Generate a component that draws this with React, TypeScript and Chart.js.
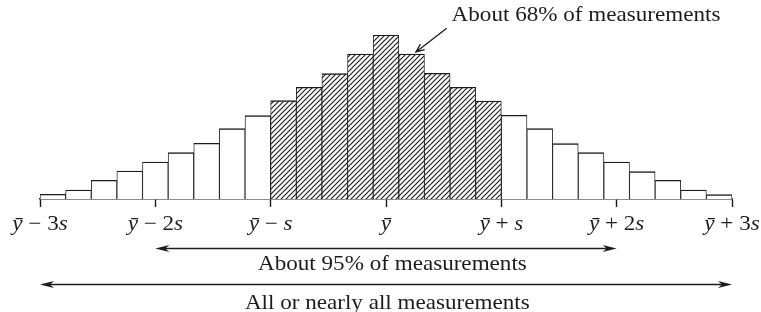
import { useEffect, useRef } from 'react';
import { Chart, registerables } from 'chart.js';

Chart.register(...registerables);

// ---- data ----
const binIndex = [0, 1, 2, 3, 4, 5, 6, 7, 8, 9, 10, 11, 12, 13, 14, 15, 16, 17, 18, 19, 20, 21, 22, 23, 24, 25, 26];
const binHeights = [4.7, 9, 18.7, 28, 37, 46.3, 55.7, 70.3, 83.3, 98.3, 111.7, 125.3, 145, 164, 145, 125.7, 111.7, 98, 83.7, 70.3, 55.3, 46.3, 37, 27.3, 18.7, 9, 4.3];
const tickValues = [-0.5, 4, 8.5, 13, 17.5, 22, 26.5];
const tickLabels = ['ȳ − 3s', 'ȳ − 2s', 'ȳ − s', 'ȳ', 'ȳ + s', 'ȳ + 2s', 'ȳ + 3s'];
const label68 = 'About 68% of measurements';
const label95 = 'About 95% of measurements';
const labelAll = 'All or nearly all measurements';

const FONT = '"Liberation Serif", "Times New Roman", serif';
const INK = '#1c1c1c';
const FS = 21;
const SX = 1.1;

function drawPlain(ctx: CanvasRenderingContext2D, text: string, x: number, y: number, align: 'left' | 'center') {
  ctx.save();
  ctx.font = `${FS}px ${FONT}`;
  ctx.textBaseline = 'alphabetic';
  ctx.textAlign = 'left';
  const w = ctx.measureText(text).width;
  ctx.translate(x, y);
  ctx.scale(SX, 1);
  ctx.fillText(text, align === 'center' ? -w / 2 : 0, 0);
  ctx.restore();
}

function drawRich(ctx: CanvasRenderingContext2D, text: string, cx: number, y: number) {
  ctx.save();
  ctx.textBaseline = 'alphabetic';
  ctx.textAlign = 'left';
  const chars = Array.from(text);
  const fontFor = (ch: string) => (/[ȳs]/.test(ch) ? `italic ${FS}px ${FONT}` : `${FS}px ${FONT}`);
  let total = 0;
  const widths = chars.map((ch) => {
    ctx.font = fontFor(ch);
    const w = ctx.measureText(ch).width;
    total += w;
    return w;
  });
  ctx.translate(cx, y);
  ctx.scale(SX, 1);
  let x = -total / 2;
  chars.forEach((ch, i) => {
    ctx.font = fontFor(ch);
    ctx.fillText(ch, x, 0);
    x += widths[i];
  });
  ctx.restore();
}

function filledHead(ctx: CanvasRenderingContext2D, tipX: number, y: number, dir: number) {
  ctx.beginPath();
  ctx.moveTo(tipX, y);
  ctx.lineTo(tipX - dir * 14, y - 3.5);
  ctx.lineTo(tipX - dir * 10, y);
  ctx.lineTo(tipX - dir * 14, y + 3.5);
  ctx.closePath();
  ctx.fill();
}

function doubleArrow(ctx: CanvasRenderingContext2D, x1: number, x2: number, y: number) {
  ctx.beginPath();
  ctx.moveTo(x1 + 6, y);
  ctx.lineTo(x2 - 6, y);
  ctx.stroke();
  filledHead(ctx, x1, y, -1);
  filledHead(ctx, x2, y, 1);
}

const annotationPlugin = {
  id: 'annotations',
  afterDraw(chart: any) {
    const ctx: CanvasRenderingContext2D = chart.ctx;
    const xs = chart.scales.x;
    const ys = chart.scales.y;
    const base = xs.top;
    ctx.save();
    ctx.fillStyle = INK;
    ctx.strokeStyle = INK;
    ctx.lineWidth = 1.4;

    // tick labels
    tickValues.forEach((v, i) => drawRich(ctx, tickLabels[i], xs.getPixelForValue(v), base + 31));

    // 95% arrow + label
    doubleArrow(ctx, xs.getPixelForValue(tickValues[1]), xs.getPixelForValue(tickValues[5]), base + 49.5);
    drawPlain(ctx, label95, xs.getPixelForValue(13.25), base + 71, 'center');

    // all arrow + label
    doubleArrow(ctx, xs.getPixelForValue(tickValues[0]), xs.getPixelForValue(tickValues[6]), base + 85.5);
    drawPlain(ctx, labelAll, xs.getPixelForValue(13.05), base + 110, 'center');

    // 68% label + pointer
    drawPlain(ctx, label68, xs.getPixelForValue(15.56), ys.getPixelForValue(178), 'left');
    const tx = xs.getPixelForValue(14.17), ty = ys.getPixelForValue(147);
    const sx = xs.getPixelForValue(15.37), sy = ys.getPixelForValue(170.7);
    ctx.lineWidth = 1.3;
    ctx.beginPath();
    ctx.moveTo(sx, sy);
    ctx.lineTo(tx, ty);
    const ang = Math.atan2(sy - ty, sx - tx);
    const hl = 9;
    ctx.moveTo(tx + hl * Math.cos(ang + 0.4), ty + hl * Math.sin(ang + 0.4));
    ctx.lineTo(tx, ty);
    ctx.lineTo(tx + hl * Math.cos(ang - 0.4), ty + hl * Math.sin(ang - 0.4));
    ctx.stroke();
    ctx.restore();
  },
};

function makeHatch(): CanvasPattern | string {
  const s = 5;
  const c = document.createElement('canvas');
  c.width = s;
  c.height = s;
  const g = c.getContext('2d');
  if (!g) return '#bbb';
  g.fillStyle = '#ffffff';
  g.fillRect(0, 0, s, s);
  g.strokeStyle = '#222222';
  g.lineWidth = 1.2;
  g.beginPath();
  g.moveTo(-1, s + 1);
  g.lineTo(s + 1, -1);
  g.moveTo(-1, 1);
  g.lineTo(1, -1);
  g.moveTo(s - 1, s + 1);
  g.lineTo(s + 1, s - 1);
  g.stroke();
  const p = g.createPattern(c, 'repeat');
  return p || '#bbb';
}

export default function App() {
  const ref = useRef<HTMLCanvasElement | null>(null);
  useEffect(() => {
    document.body.style.margin = '0';
    document.body.style.overflow = 'hidden';
    const canvas = ref.current;
    if (!canvas) return;
    const hatch = makeHatch();
    const lo = tickValues[2];
    const hi = tickValues[4];
    const fills = binIndex.map((i) => (i > lo && i < hi ? hatch : '#ffffff'));
    const chart = new Chart(canvas, {
      type: 'bar',
      data: {
        datasets: [
          {
            data: binIndex.map((i, k) => ({ x: i, y: binHeights[k] })),
            backgroundColor: fills as any,
            borderColor: INK,
            borderWidth: { top: 1.4, left: 0.9, right: 0.9, bottom: 0 },
            borderSkipped: 'bottom',
            barPercentage: 1,
            categoryPercentage: 1,
          } as any,
        ],
      },
      options: {
        responsive: false,
        animation: false,
        events: [],
        layout: { padding: { left: 40, right: 29, top: 35, bottom: 105 } },
        plugins: { legend: { display: false }, tooltip: { enabled: false } },
        scales: {
          x: {
            type: 'linear',
            min: -0.5,
            max: 26.5,
            offset: false,
            afterBuildTicks: (s: any) => {
              s.ticks = tickValues.map((v) => ({ value: v }));
            },
            ticks: { display: false },
            grid: {
              display: true,
              offset: false,
              drawOnChartArea: false,
              drawTicks: true,
              tickLength: 8,
              tickColor: INK,
              tickWidth: 1.4,
              color: INK,
            },
            border: { display: true, color: INK, width: 1.5 },
          },
          y: { display: false, min: 0, max: 164 },
        },
      } as any,
      plugins: [annotationPlugin],
    });
    return () => chart.destroy();
  }, []);
  return (
    <canvas ref={ref} width={761} height={312} style={{ display: 'block', width: 761, height: 312 }} />
  );
}
